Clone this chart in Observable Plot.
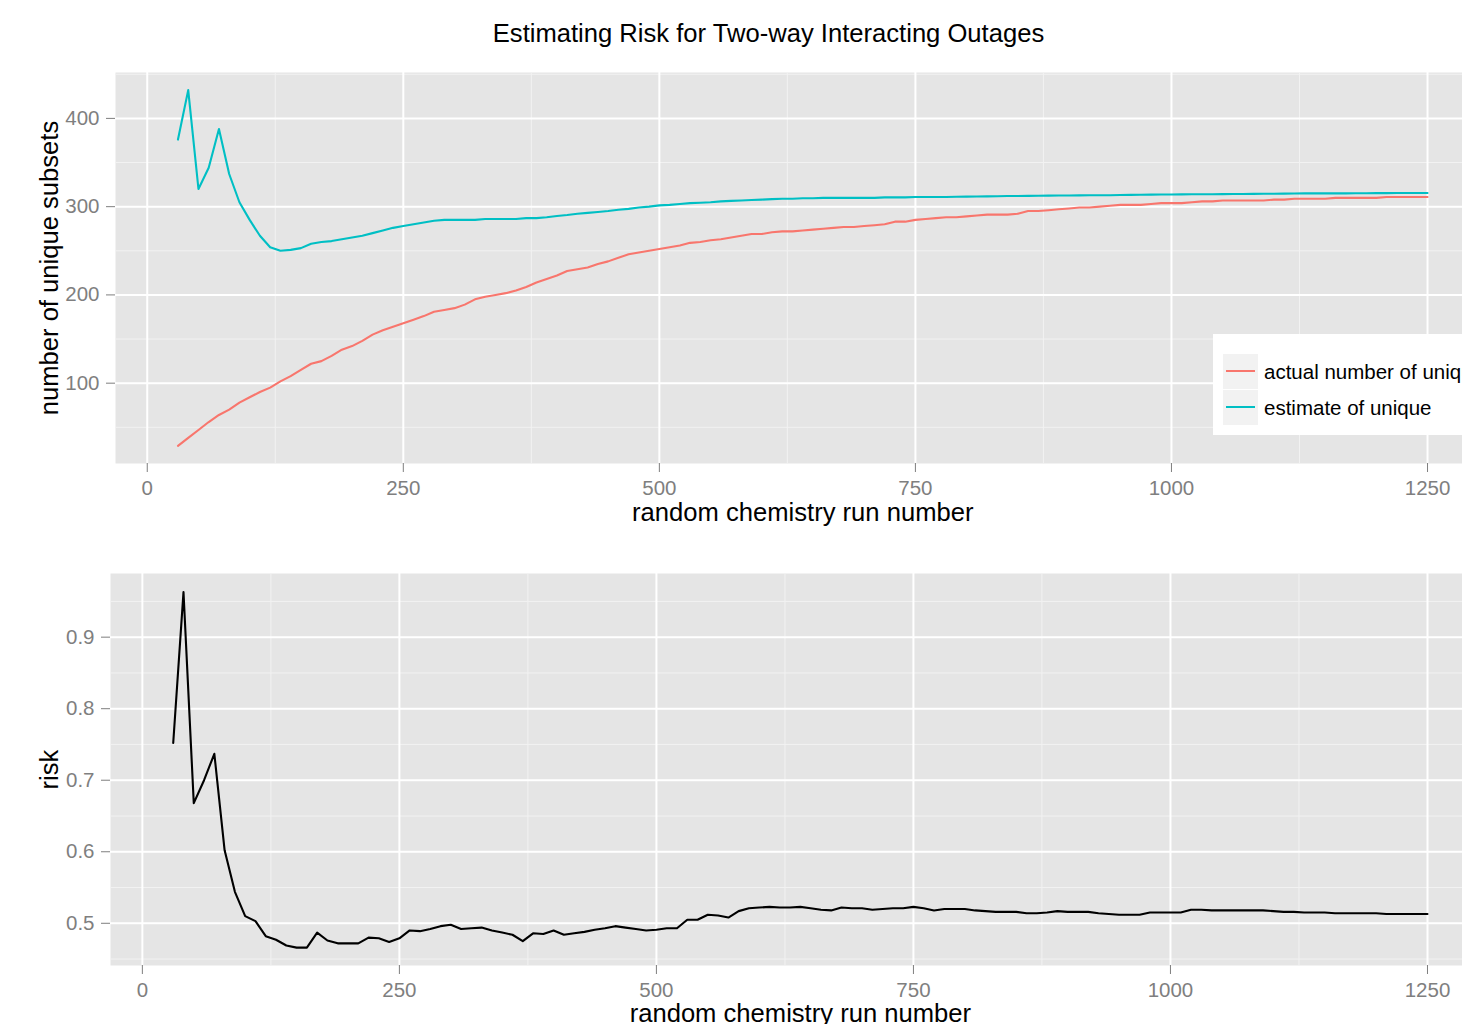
<!DOCTYPE html>
<html>
<head>
<meta charset="utf-8">
<script src="https://cdn.jsdelivr.net/npm/d3@7"></script>
<script src="https://cdn.jsdelivr.net/npm/@observablehq/plot@0.6"></script>
<style>
html, body { margin: 0; padding: 0; background: #fff; }
#root { position: relative; width: 1462px; height: 1024px; overflow: hidden; background: #fff;
  font-family: "Liberation Sans", Arial, Helvetica, sans-serif; }
#title { position: absolute; left: 0; width: 1537px; top: 20.5px; text-align: center;
  font-size: 25.6px; line-height: 25.6px; color: #000; white-space: nowrap; }
#top { position: absolute; left: 0; top: 60px; width: 1500px; }
#bottom { position: absolute; left: 0; top: 560px; width: 1500px; }
#top svg, #bottom svg { max-width: none !important; }
#legend { position: absolute; left: 1213px; top: 334px; width: 300px; height: 101px; background: #fff; }
.key { position: absolute; left: 10px; width: 35px; height: 35px; background: #F2F2F2; }
.key span { position: absolute; left: 3px; right: 3px; top: 16px; height: 2.1px; }
.lab { position: absolute; left: 51px; font-size: 20.5px; line-height: 20.5px; color: #000; white-space: nowrap; }
</style>
</head>
<body>
<div id="root">
  <div id="title">Estimating Risk for Two-way Interacting Outages</div>
  <div id="top"></div>
  <div id="bottom"></div>
  <div id="legend"></div>
</div>
<script>
// ---------------- data ----------------
const runs = [30,40,50,60,70,80,90,100,110,120,
  130,140,150,160,170,180,190,200,210,220,
  230,240,250,260,270,280,290,300,310,320,
  330,340,350,360,370,380,390,400,410,420,
  430,440,450,460,470,480,490,500,510,520,
  530,540,550,560,570,580,590,600,610,620,
  630,640,650,660,670,680,690,700,710,720,
  730,740,750,760,770,780,790,800,810,820,
  830,840,850,860,870,880,890,900,910,920,
  930,940,950,960,970,980,990,1000,1010,1020,
  1030,1040,1050,1060,1070,1080,1090,1100,1110,1120,
  1130,1140,1150,1160,1170,1180,1190,1200,1210,1220,
  1230,1240,1250];

const actualUnique = [29,38,47,56,64,70,78,84,90,95,
  102,108,115,122,125,131,138,142,148,155,
  160,164,168,172,176,181,183,185,189,195,
  198,200,202,205,209,214,218,222,227,229,
  231,235,238,242,246,248,250,252,254,256,
  259,260,262,263,265,267,269,269,271,272,
  272,273,274,275,276,277,277,278,279,280,
  283,283,285,286,287,288,288,289,290,291,
  291,291,292,295,295,296,297,298,299,299,
  300,301,302,302,302,303,304,304,304,305,
  306,306,307,307,307,307,307,308,308,309,
  309,309,309,310,310,310,310,310,311,311,
  311,311,311];

const estimateUnique = [376,432,320,344,388,337,305,285,267,254,
  250,251,253,258,260,261,263,265,267,270,
  273,276,278,280,282,284,285,285,285,285,
  286,286,286,286,287,287,288,289.5,290.5,292,
  293,294,295,296.5,297.5,299,300,301.5,302,303,
  304,304.5,305,306,306.5,307,307.5,308,308.5,309,
  309,309.5,309.5,310,310,310,310,310,310,310.5,
  310.5,310.5,311,311,311,311,311.2,311.4,311.5,311.6,
  311.8,312,312,312.2,312.3,312.5,312.6,312.7,312.8,313,
  313,313,313.2,313.3,313.5,313.6,313.7,313.8,313.9,314,
  314,314.1,314.2,314.3,314.4,314.5,314.6,314.7,314.8,314.9,
  315,315,315,315,315.1,315.2,315.2,315.3,315.3,315.4,
  315.4,315.5,315.5];

const risk = [0.752,0.963,0.668,0.700,0.737,0.602,0.544,0.510,0.503,0.482,
  0.477,0.469,0.466,0.466,0.487,0.476,0.472,0.472,0.472,0.480,
  0.479,0.474,0.479,0.490,0.489,0.492,0.496,0.498,0.492,0.493,
  0.494,0.490,0.487,0.484,0.475,0.486,0.485,0.490,0.484,0.486,
  0.488,0.491,0.493,0.496,0.494,0.492,0.490,0.491,0.493,0.493,
  0.505,0.505,0.512,0.511,0.508,0.517,0.521,0.522,0.523,0.522,
  0.522,0.523,0.521,0.519,0.518,0.522,0.521,0.521,0.519,0.520,
  0.521,0.521,0.523,0.521,0.518,0.520,0.520,0.520,0.518,0.517,
  0.516,0.516,0.516,0.514,0.514,0.515,0.517,0.516,0.516,0.516,
  0.514,0.513,0.512,0.512,0.512,0.515,0.515,0.515,0.515,0.519,
  0.519,0.518,0.518,0.518,0.518,0.518,0.518,0.517,0.516,0.516,
  0.515,0.515,0.515,0.514,0.514,0.514,0.514,0.514,0.513,0.513,
  0.513,0.513,0.513];

const seriesNames = ["actual number of unique", "estimate of unique"];
const seriesColors = ["#F8766D", "#00BFC4"];

const xMajor = [0, 250, 500, 750, 1000, 1250];
const xMinor = [125, 375, 625, 875, 1125];
const yTopMajor = [100, 200, 300, 400];
const yTopMinor = [50, 150, 250, 350, 450];
const yBotMajor = [0.5, 0.6, 0.7, 0.8, 0.9];
const yBotMinor = [0.45, 0.55, 0.65, 0.75, 0.85, 0.95];

const xTitle = "random chemistry run number";
const yTopTitle = "number of unique subsets";
const yBotTitle = "risk";

// ---------------- helpers ----------------
const FONT = '"Liberation Sans", Arial, Helvetica, sans-serif';
const PANEL = "#E5E5E5", MINOR = "#F2F2F2", MAJOR = "#FFFFFF", TICK = "#7F7F7F";

function panelMarks(yMajor, yMinor, yFmt, yLabel, xLabelOffset, yLabelOffset) {
  return [
    Plot.frame({fill: PANEL}),
    Plot.gridX(xMinor, {stroke: MINOR, strokeOpacity: 1, strokeWidth: 1}),
    Plot.gridY(yMinor, {stroke: MINOR, strokeOpacity: 1, strokeWidth: 1}),
    Plot.gridX(xMajor, {stroke: MAJOR, strokeOpacity: 1, strokeWidth: 2}),
    Plot.gridY(yMajor, {stroke: MAJOR, strokeOpacity: 1, strokeWidth: 2}),
    Plot.axisX(xMajor, {tickSize: 9, tickPadding: 8, tickFormat: "d", fontSize: 20.5, color: TICK, label: null}),
    Plot.axisY(yMajor, {tickSize: 9, tickPadding: 7, tickFormat: yFmt, fontSize: 20.5, color: TICK, label: null}),
    Plot.axisX([], {tickSize: 0, label: xTitle, labelAnchor: "center", labelOffset: xLabelOffset, labelArrow: "none", fontSize: 25.6, color: "#000"}),
    Plot.axisY([], {tickSize: 0, label: yLabel, labelAnchor: "center", labelOffset: yLabelOffset, labelArrow: "none", fontSize: 25.6, color: "#000"})
  ];
}

// ---------------- top panel ----------------
const topData = runs.flatMap((r, i) => [
  {run: r, value: actualUnique[i], series: seriesNames[0]},
  {run: r, value: estimateUnique[i], series: seriesNames[1]}
]);

const topPlot = Plot.plot({
  width: 1500, height: 480,
  marginLeft: 115, marginRight: 10.5, marginTop: 12, marginBottom: 77,
  style: {fontFamily: FONT, background: "transparent", overflow: "visible", maxWidth: "none"},
  x: {domain: [-31, 1311]},
  y: {domain: [9, 452]},
  color: {domain: seriesNames, range: seriesColors},
  marks: [
    ...panelMarks(yTopMajor, yTopMinor, "d", yTopTitle, 57.5, 76),
    Plot.line(topData, {x: "run", y: "value", stroke: "series", strokeWidth: 2.1})
  ]
});
document.getElementById("top").appendChild(topPlot);

// ---------------- bottom panel ----------------
const botData = runs.map((r, i) => ({run: r, risk: risk[i]}));

const botPlot = Plot.plot({
  width: 1500, height: 464,
  marginLeft: 110, marginRight: 10.3, marginTop: 13, marginBottom: 59,
  style: {fontFamily: FONT, background: "transparent", overflow: "visible", maxWidth: "none"},
  x: {domain: [-31, 1311]},
  y: {domain: [0.441, 0.989]},
  marks: [
    ...panelMarks(yBotMajor, yBotMinor, ".1f", yBotTitle, 56.5, 71),
    Plot.line(botData, {x: "run", y: "risk", stroke: "#000", strokeWidth: 2.1})
  ]
});
document.getElementById("bottom").appendChild(botPlot);

// ---------------- legend ----------------
const legend = document.getElementById("legend");
seriesNames.forEach((name, i) => {
  const key = document.createElement("div");
  key.className = "key";
  key.style.top = (20 + i * 36) + "px";
  const line = document.createElement("span");
  line.style.background = seriesColors[i];
  key.appendChild(line);
  legend.appendChild(key);
  const lab = document.createElement("div");
  lab.className = "lab";
  lab.style.top = (28 + i * 36.4) + "px";
  lab.textContent = name;
  legend.appendChild(lab);
});
</script>
</body>
</html>
